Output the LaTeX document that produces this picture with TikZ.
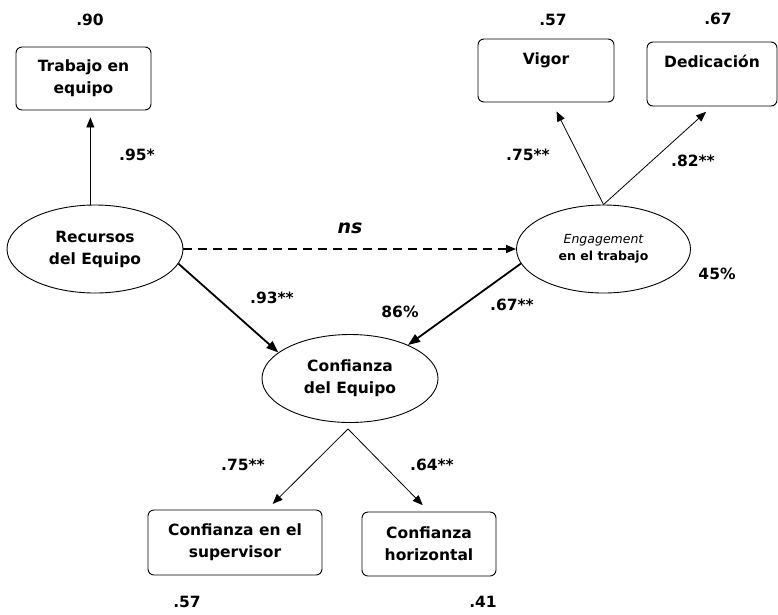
\documentclass[tikz,border=0pt]{standalone}
\usepackage{fontspec}
\setmainfont{DejaVu Sans}
\usetikzlibrary{shapes.geometric,arrows.meta,calc}
\begin{document}
\begin{tikzpicture}[x=1pt,y=-1pt,
  every node/.style={font=\fontsize{15.5}{22}\selectfont\bfseries},
  obs/.style={draw,rounded corners=6pt,line width=0.9pt,align=center,inner sep=0pt},
  lat/.style={draw,ellipse,line width=0.9pt,align=center,inner sep=0pt,minimum width=176pt,minimum height=88pt},
  num/.style={inner sep=1pt},
  thin/.style={line width=0.8pt,-{Triangle[length=10pt,width=8pt]}},
  thick/.style={line width=1.8pt,-{Triangle[length=12pt,width=9pt]}},
  dsh/.style={line width=1.8pt,dash pattern=on 9pt off 6pt,-{Triangle[length=10pt,width=8pt]}}
]
\useasboundingbox (0,0) rectangle (778,614);
% observed boxes
\node[obs,minimum width=135pt,minimum height=63pt] (te) at (83.5,78.5) {Trabajo en\\equipo};
\node[obs,minimum width=136pt,minimum height=63pt,font=\fontsize{15.5}{18}\selectfont\bfseries] (vig) at (546,70.5) {Vigor\\[1pt]\strut};
\node[obs,minimum width=130pt,minimum height=64pt,font=\fontsize{15.5}{18}\selectfont\bfseries] (ded) at (712,74) {Dedicación\\[3pt]\strut};
\node[obs,minimum width=174pt,minimum height=65pt] (cs) at (235,542.5) {Confianza en el\\supervisor};
\node[obs,minimum width=134pt,minimum height=64pt] (ch) at (429,544) {Confianza\\horizontal};
% latent ellipses
\node[lat] (rec) at (95,249) {Recursos\\del Equipo};
\node[lat,minimum width=174pt,font=\fontsize{12.5}{17}\selectfont\bfseries] (eng) at (603.5,249) {{\mdseries\itshape Engagement}\\en el trabajo};
\node[lat] (conf) at (350,378.5) {Confianza\\del Equipo};
% connectors
\coordinate (cb) at ($(conf.south)+(-2,6)$);
\draw[thin,shorten >=7pt] (rec.96) -- (rec.96 |- te.south);
\draw[thin,shorten >=10pt] (eng.north) -- ($(vig.south)+(6,0)$);
\draw[thin,shorten >=8pt] (eng.north) -- (ded.south);
\draw[dsh] (rec.east) -- (eng.west);
\draw[thick] (rec.-10) -- (conf.160);
\draw[thick] (eng.190) -- (conf.30);
\draw[thin,shorten >=8pt] (cb) -- ($(cs.north)+(32,0)$);
\draw[thin,shorten >=9pt] (cb) -- (ch.north);
% labels
\node[num] (r1) at (90,20) {.90};
\node[num] (r2) at (553,20) {.57};
\node[num] (r3) at (718,19) {.67};
\node[num] (l1) at (137,155) {.95*};
\node[num] (l2) at (528,155) {.75**};
\node[num] (l3) at (693,161) {.82**};
\node[num,font=\fontsize{19}{21}\selectfont\bfseries\itshape] (ns) at (350,228) {ns};
\node[num] (l4) at (272,298) {.93**};
\node[num] (p1) at (400,312) {86\%};
\node[num] (l5) at (512,305) {.67**};
\node[num] (p2) at (717,274) {45\%};
\node[num] (l6) at (243,465) {.75**};
\node[num] (l7) at (432,465) {.64**};
\node[num] (r4) at (187,602) {.57};
\node[num] (r5) at (483,602) {.41};
\end{tikzpicture}
\end{document}
